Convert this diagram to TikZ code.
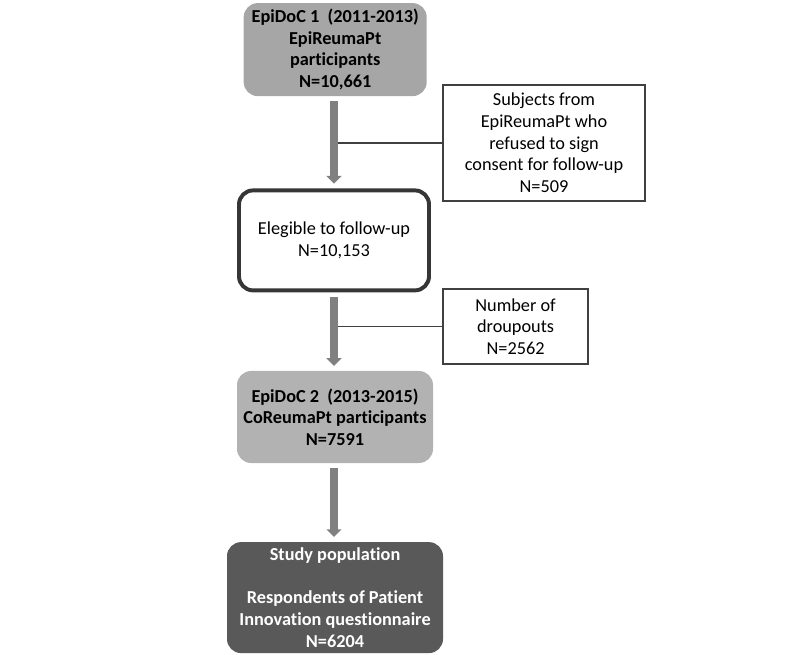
\documentclass[tikz,border=0pt]{standalone}
\usepackage{fontspec}
\setmainfont{Carlito}[Ligatures=NoCommon]
\definecolor{boxgray}{RGB}{166, 166, 166}
\definecolor{boxlight}{RGB}{178, 178, 178}
\definecolor{boxdark}{RGB}{89, 89, 89}
\definecolor{arrowgray}{RGB}{128, 128, 128}
\definecolor{linegray}{RGB}{64, 64, 64}
\usetikzlibrary{arrows.meta, positioning}
\tikzset{
  mainbox/.style={rounded corners=10pt, align=center, inner sep=2pt,
    font=\fontsize{13}{15.4}\selectfont},
  sidebox/.style={draw=linegray, line width=1pt, fill=white, align=center,
    inner sep=2pt, font=\fontsize{13}{15.4}\selectfont},
  flowarrow/.style={arrowgray, line width=5.2pt,
    -{Triangle[width=10.5pt, length=5.5pt]}, shorten <=0.12cm, shorten >=0.12cm},
  branch/.style={linegray, line width=1.1pt}
}

\begin{document}
\begin{tikzpicture}
  \useasboundingbox (0, 0) rectangle (20, -16.375);

  % MAIN column
  \node[mainbox, fill=boxgray, minimum width=4.575cm, minimum height=2.325cm,
    font=\fontsize{13}{15.4}\selectfont\bfseries] (epi1) at (8.38, -1.24)
    {EpiDoC 1\ \ (2011-2013)\\EpiReumaPt\\participants\\N=10,661};

  \node[mainbox, draw=linegray!85!black, line width=2.8pt, fill=white,
    minimum width=4.75cm, minimum height=2.5cm] (elig) at (8.35, -6.01)
    {Elegible to follow-up\\N=10,153};

  \node[mainbox, fill=boxlight, minimum width=4.9cm, minimum height=2.3cm,
    font=\fontsize{13}{15.4}\selectfont\bfseries] (epi2) at (8.375, -10.425)
    {EpiDoC 2\ \ (2013-2015)\\CoReumaPt participants\\N=7591};

  \node[mainbox, fill=boxdark, text=white, minimum width=5.4cm, minimum height=2.775cm,
    font=\fontsize{13}{15.4}\selectfont\bfseries] (study) at (8.375, -14.94)
    {Study population\\[15.4pt]Respondents of Patient\\Innovation questionnaire\\N=6204};

  % SIDE boxes
  \node[sidebox, minimum width=5.05cm, minimum height=2.9cm] (refused) at (13.6, -3.575)
    {Subjects from\\EpiReumaPt who\\refused to sign\\consent for follow-up\\N=509};

  \node[sidebox, minimum width=3.625cm, minimum height=1.875cm] (drop) at (12.89, -8.16)
    {Number of\\droupouts\\N=2562};

  % Branch lines to the side boxes
  \coordinate (b1) at (8.35, -3.575);
  \coordinate (b2) at (8.35, -8.16);
  \draw[branch] (refused.west) -- (b1);
  \draw[branch] (drop.west) -- (b2);

  % Flow arrows
  \draw[flowarrow] (epi1.south -| b1) -- (elig.north -| b1);
  \draw[flowarrow] (elig.south -| b1) -- (epi2.north -| b1);
  \draw[flowarrow] (epi2.south -| b1) -- (study.north -| b1);
\end{tikzpicture}
\end{document}
